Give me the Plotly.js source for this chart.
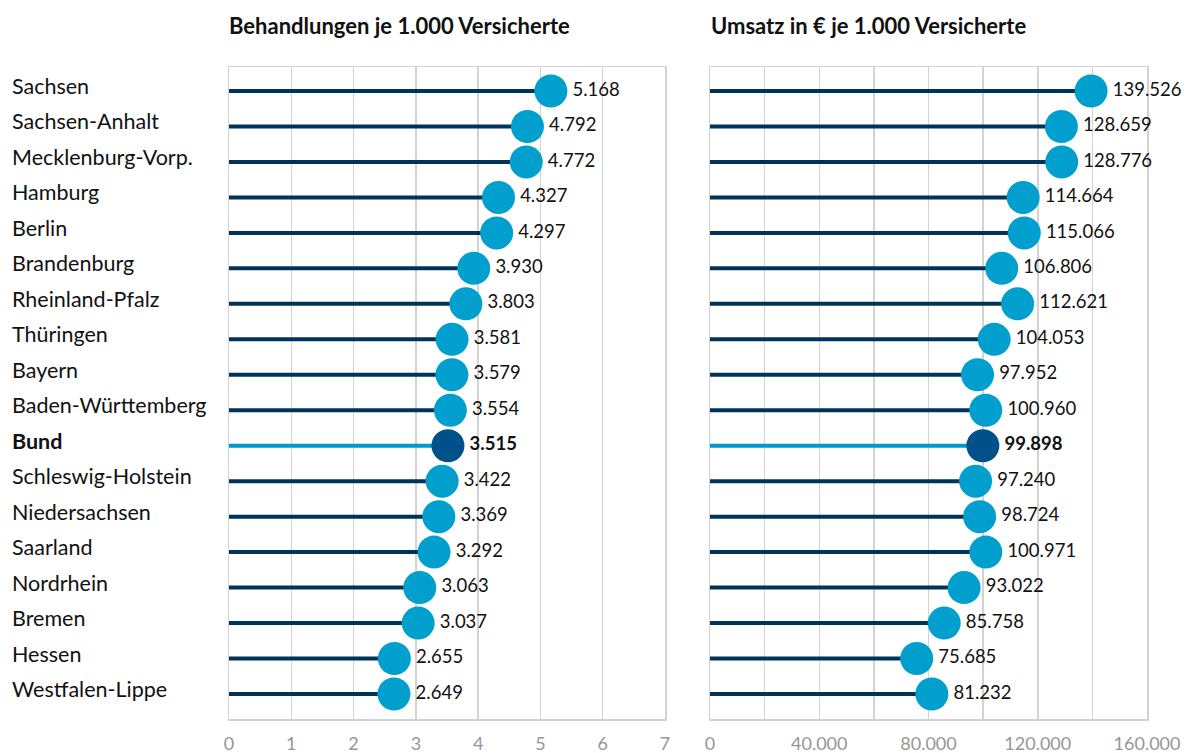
<!DOCTYPE html>
<html>
<head>
<meta charset="utf-8">
<script src="https://cdn.plot.ly/plotly-3.0.1.min.js"></script>
<style>html,body{margin:0;padding:0;background:#fff;}#chart{width:1190px;height:753px;}</style>
</head>
<body>
<div id="chart"></div>
<script>
const categories = ["Sachsen","Sachsen-Anhalt","Mecklenburg-Vorp.","Hamburg","Berlin","Brandenburg","Rheinland-Pfalz","Thüringen","Bayern","Baden-Württemberg","Bund","Schleswig-Holstein","Niedersachsen","Saarland","Nordrhein","Bremen","Hessen","Westfalen-Lippe"];
const behandlungen = [5.168,4.792,4.772,4.327,4.297,3.930,3.803,3.581,3.579,3.554,3.515,3.422,3.369,3.292,3.063,3.037,2.655,2.649];
const umsatz = [139526,128659,128776,114664,115066,106806,112621,104053,97952,100960,99898,97240,98724,100971,93022,85758,75685,81232];
const highlight = "Bund";
const titleLeft = "Behandlungen je 1.000 Versicherte";
const titleRight = "Umsatz in € je 1.000 Versicherte";
const leftTicks = [0,1,2,3,4,5,6,7];
const rightGrid = [0,20000,40000,60000,80000,100000,120000,140000,160000];
const rightTickLabels = ["0","","40.000","","80.000","","120.000","","160.000"];

const FONT = "Lato, Open Sans, sans-serif";
const NAVY = "#00335A", CYAN = "#009FCE", BUND_LINE = "#0099CC", BUND_DOT = "#00508A";

function fmtThousands(v){ return String(Math.round(v)).replace(/\B(?=(\d{3})+(?!\d))/g, "."); }
function fmtDec3(v){ return v.toFixed(3); }

function buildTraces(values, xa, ya, fmt){
  const traces = [];
  const lx = [], ly = [];
  categories.forEach((c,i)=>{ if(c!==highlight){ lx.push(0, values[i], null); ly.push(c, c, null);} });
  traces.push({type:"scatter", mode:"lines", x:lx, y:ly, xaxis:xa, yaxis:ya, line:{color:NAVY, width:4}, hoverinfo:"skip", showlegend:false});
  const hi = categories.indexOf(highlight);
  traces.push({type:"scatter", mode:"lines", x:[0, values[hi]], y:[highlight, highlight], xaxis:xa, yaxis:ya, line:{color:BUND_LINE, width:4}, hoverinfo:"skip", showlegend:false});
  const mx=[], my=[], mt=[];
  categories.forEach((c,i)=>{ if(c!==highlight){ mx.push(values[i]); my.push(c); mt.push(fmt(values[i])); } });
  traces.push({type:"scatter", mode:"markers+text", x:mx, y:my, text:mt, textposition:"middle right",
    textfont:{family:FONT, size:18.5, color:"#111"}, marker:{color:CYAN, size:33}, xaxis:xa, yaxis:ya, showlegend:false, cliponaxis:false});
  traces.push({type:"scatter", mode:"markers+text", x:[values[hi]], y:[highlight], text:["<b>"+fmt(values[hi])+"</b>"], textposition:"middle right",
    textfont:{family:FONT, size:18.5, color:"#111"}, marker:{color:BUND_DOT, size:33}, xaxis:xa, yaxis:ya, showlegend:false, cliponaxis:false});
  return traces;
}

const data = [].concat(
  buildTraces(behandlungen, "x", "y", fmtDec3),
  buildTraces(umsatz, "x2", "y2", fmtThousands)
);

const W = 1190, H = 753;
const plotTop = 67, plotBottom = 719;
const yRange = [17.705, -0.677];
const yDomain = [1 - plotBottom/H, 1 - plotTop/H];
const GRID = "#d3d3d3";

const xCommon = {
  showline:true, linecolor:GRID, linewidth:1.5, mirror:true, layer:"below traces",
  showgrid:true, gridcolor:GRID, gridwidth:1.5, zeroline:false,
  ticks:"", tickfont:{family:FONT, size:18, color:"#969696"}, ticklabelstandoff:8, fixedrange:true
};
const yCommon = {type:"category", range:yRange, showticklabels:false, showgrid:false, zeroline:false, layer:"below traces",
  showline:true, linecolor:GRID, linewidth:1.5, mirror:true, ticks:"", categoryorder:"array", categoryarray:categories};

const annotations = categories.map(c=>({
  xref:"paper", yref:"y", x:10/W, y:c, xanchor:"left", yanchor:"middle", yshift:5, showarrow:false,
  text: c===highlight ? "<b>"+c+"</b>" : c, font:{family:FONT, size:21.5, color:"#111"}
}));
annotations.push({xref:"paper", yref:"paper", x:227/W, y:1-26/H, xanchor:"left", yanchor:"middle", showarrow:false, text:"<b>"+titleLeft+"</b>", font:{family:FONT, size:22, color:"#111"}});
annotations.push({xref:"paper", yref:"paper", x:709/W, y:1-26/H, xanchor:"left", yanchor:"middle", showarrow:false, text:"<b>"+titleRight+"</b>", font:{family:FONT, size:22, color:"#111"}});

const layout = {
  width:W, height:H, margin:{l:0,r:0,t:0,b:0}, paper_bgcolor:"#fff", plot_bgcolor:"#fff",
  separators:",.", showlegend:false,
  xaxis: Object.assign({}, xCommon, {domain:[229/W, 665/W], range:[0,7], tickmode:"array", tickvals:leftTicks, ticktext:leftTicks.map(String)}),
  xaxis2: Object.assign({}, xCommon, {domain:[710/W, 1147/W], range:[0,160000], tickmode:"array", tickvals:rightGrid, ticktext:rightTickLabels}),
  yaxis: Object.assign({}, yCommon, {domain:yDomain, anchor:"x"}),
  yaxis2: Object.assign({}, yCommon, {domain:yDomain, anchor:"x2"}),
  annotations: annotations
};

Plotly.newPlot("chart", data, layout, {displayModeBar:false, staticPlot:true});
</script>
</body>
</html>
